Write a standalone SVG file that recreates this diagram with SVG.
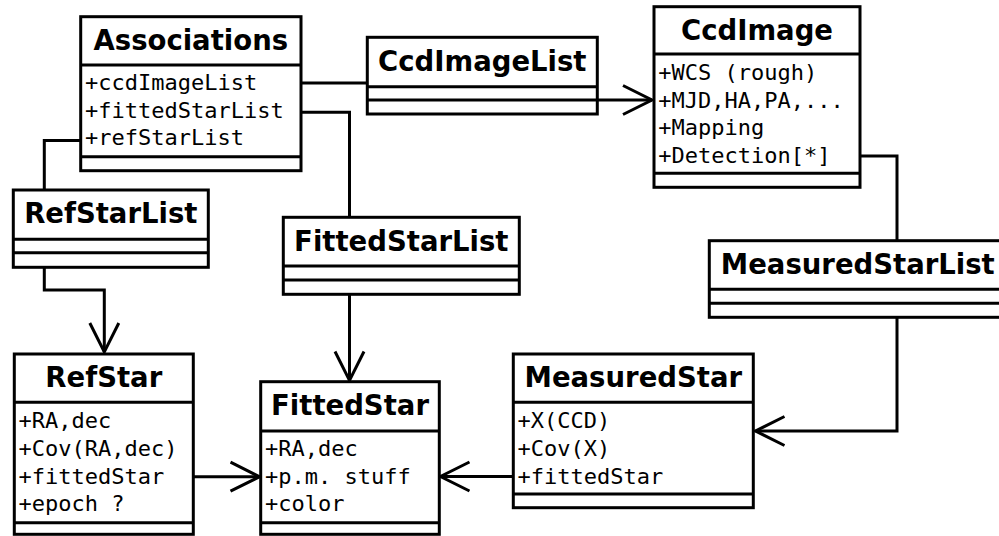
<svg xmlns="http://www.w3.org/2000/svg" width="999" height="536" viewBox="0 0 999 536">
<style>
.box{fill:#fff;stroke:#000;stroke-width:3}
.div{stroke:#000;stroke-width:3;fill:none}
.t{font-family:"DejaVu Sans",sans-serif;font-weight:bold;font-size:27.5px;text-anchor:middle;fill:#000}
.a{font-family:"DejaVu Sans Mono",monospace;font-size:22px;fill:#000}
.c{fill:none;stroke:#000;stroke-width:3}
</style>
<defs>
<marker id="arr" markerUnits="userSpaceOnUse" markerWidth="40" markerHeight="40" viewBox="-35 -20 40 40" refX="0" refY="0" orient="auto" overflow="visible">
<path d="M-29,-14.5 L0,0 L-29,14.5" fill="none" stroke="#000" stroke-width="3"/>
</marker>
</defs>
<g id="connectors">
<polyline class="c" points="301,83 480,83 480,100 652,100" marker-end="url(#arr)"/>
<polyline class="c" points="80.7,140.5 44.3,140.5 44.3,290 104.3,290 104.3,352" marker-end="url(#arr)"/>
<polyline class="c" points="301,112.3 349.5,112.3 349.5,380.5" marker-end="url(#arr)"/>
<polyline class="c" points="860,156 897,156 897,431 755.5,431" marker-end="url(#arr)"/>
<polyline class="c" points="193.3,476.7 259.5,476.7" marker-end="url(#arr)"/>
<polyline class="c" points="513.3,476.5 440.5,476.5" marker-end="url(#arr)"/>
</g>
<g id="Associations">
<rect class="box" x="80.7" y="16.7" width="220.3" height="154"/>
<path class="div" d="M80.7,65H301M80.7,156.7H301"/>
<text class="t" x="190.8" y="50">Associations</text>
<text class="a" x="85" y="90">+ccdImageList</text>
<text class="a" x="85" y="117.6">+fittedStarList</text>
<text class="a" x="85" y="145.2">+refStarList</text>
</g>
<g id="CcdImageList">
<rect class="box" x="367.3" y="37.3" width="230" height="76.7"/>
<path class="div" d="M367.3,86.7H597.3M367.3,100H597.3"/>
<text class="t" x="482.3" y="70.7">CcdImageList</text>
</g>
<g id="CcdImage">
<rect class="box" x="654" y="6.7" width="206" height="180.6"/>
<path class="div" d="M654,54H860M654,173.3H860"/>
<text class="t" x="757" y="40">CcdImage</text>
<text class="a" x="658.3" y="80">+WCS (rough)</text>
<text class="a" x="658.3" y="107.6">+MJD,HA,PA,...</text>
<text class="a" x="658.3" y="135.2">+Mapping</text>
<text class="a" x="658.3" y="162.8">+Detection[*]</text>
</g>
<g id="RefStarList">
<rect class="box" x="13.3" y="190" width="195" height="77.3"/>
<path class="div" d="M13.3,239.3H208.3M13.3,252.7H208.3"/>
<text class="t" x="110.8" y="223.3">RefStarList</text>
</g>
<g id="FittedStarList">
<rect class="box" x="283.3" y="217.3" width="236" height="77"/>
<path class="div" d="M283.3,266H519.3M283.3,280H519.3"/>
<text class="t" x="401.3" y="250.7">FittedStarList</text>
</g>
<g id="MeasuredStarList">
<rect class="box" x="709.3" y="240.7" width="297" height="76.6"/>
<path class="div" d="M709.3,289.3H1006.3M709.3,303.3H1006.3"/>
<text class="t" x="857.8" y="274">MeasuredStarList</text>
</g>
<g id="RefStar">
<rect class="box" x="14.3" y="354" width="179" height="180.3"/>
<path class="div" d="M14.3,402.3H193.3M14.3,522.7H193.3"/>
<text class="t" x="103.8" y="386.7">RefStar</text>
<text class="a" x="18.6" y="428.3">+RA,dec</text>
<text class="a" x="18.6" y="455.9">+Cov(RA,dec)</text>
<text class="a" x="18.6" y="483.5">+fittedStar</text>
<text class="a" x="18.6" y="511.1">+epoch ?</text>
</g>
<g id="FittedStar">
<rect class="box" x="260.7" y="381.7" width="178.6" height="152.6"/>
<path class="div" d="M260.7,431H439.3M260.7,522.7H439.3"/>
<text class="t" x="350" y="415">FittedStar</text>
<text class="a" x="265" y="456">+RA,dec</text>
<text class="a" x="265" y="483.6">+p.m. stuff</text>
<text class="a" x="265" y="511.2">+color</text>
</g>
<g id="MeasuredStar">
<rect class="box" x="513.3" y="354" width="240" height="153.7"/>
<path class="div" d="M513.3,402.3H753.3M513.3,494H753.3"/>
<text class="t" x="633.3" y="386.7">MeasuredStar</text>
<text class="a" x="517.6" y="428.3">+X(CCD)</text>
<text class="a" x="517.6" y="455.9">+Cov(X)</text>
<text class="a" x="517.6" y="483.5">+fittedStar</text>
</g>
</svg>
